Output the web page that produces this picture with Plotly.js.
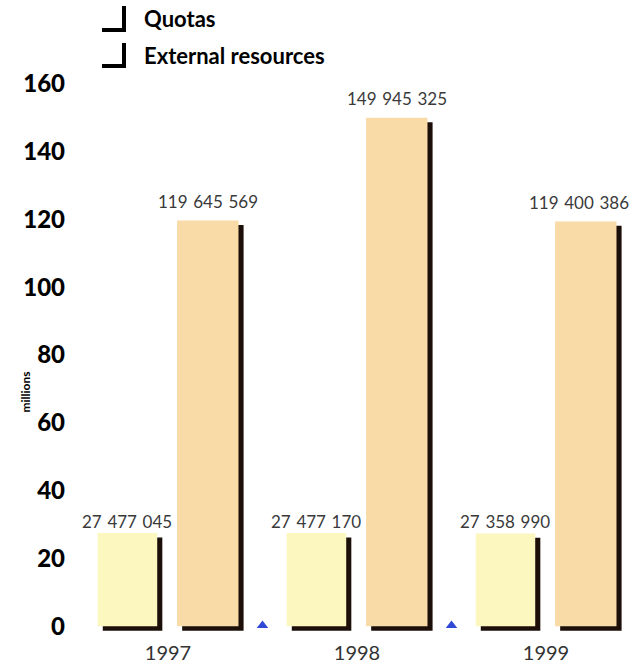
<!DOCTYPE html>
<html>
<head>
<meta charset="utf-8">
<script src="https://cdn.plot.ly/plotly-3.0.1.min.js"></script>
<style>
  html, body { margin: 0; padding: 0; background: #ffffff; }
  #chart { width: 633px; height: 667px; }
</style>
</head>
<body>
<div id="chart"></div>
<script>
// Budget sources per year (in units; plotted in millions)
const years = ['1997', '1998', '1999'];
const quotas = [27477045, 27477170, 27358990];
const externalResources = [119645569, 149945325, 119400386];
const yTickVals = [0, 20, 40, 60, 80, 100, 120, 140, 160];
const seriesNames = ['Quotas', 'External resources'];

// Layout geometry
const W = 633, H = 667;
const M = { l: 75, r: 8, t: 77, b: 34 };
const plotW = W - M.l - M.r, plotH = H - M.t - M.b;
const pxX = px => (px - M.l) / plotW;          // page px -> paper x
const pxY = py => (H - M.b - py) / plotH;      // page px -> paper y

const FONT = 'Lato, "Open Sans", sans-serif';
const SHADOW = '#1c0f0a';
const SHADOW_DX = 0.027;   // drop shadow shift, x units
const SHADOW_DY = 1.3;     // drop shadow shift, millions

const xs = years.map((_, i) => i);
const toM = v => v / 1e6;
const fmt = v => String(v).replace(/\B(?=(\d{3})+(?!\d))/g, '\u2004');

const bars = [
  { name: seriesNames[0], vals: quotas, color: '#fcf7bf', offset: -0.372, width: 0.315, lift: 12 },
  { name: seriesNames[1], vals: externalResources, color: '#f8dba6', offset: 0.048, width: 0.325, lift: 19 }
];

const traces = [];
// shadows first so the coloured bars sit on top
bars.forEach(b => {
  traces.push({
    type: 'bar', x: xs, y: b.vals.map(toM), base: -SHADOW_DY,
    offset: b.offset + SHADOW_DX, width: b.width,
    marker: { color: SHADOW, line: { width: 0 } }, opacity: 1,
    hoverinfo: 'skip', showlegend: false
  });
});
bars.forEach(b => {
  traces.push({
    type: 'bar', name: b.name, x: xs, y: b.vals.map(toM),
    offset: b.offset, width: b.width,
    marker: { color: b.color, line: { width: 0 } }, opacity: 1,
    showlegend: false
  });
});
// small blue separators between the year groups
traces.push({
  type: 'scatter', mode: 'markers',
  x: years.slice(1).map((_, i) => i + 0.5), y: years.slice(1).map(() => 0.2),
  marker: { symbol: 'triangle-up', size: 10, color: '#2f48d6' },
  hoverinfo: 'skip', showlegend: false, cliponaxis: false
});

const annotations = [];
bars.forEach((b, s) => {
  b.vals.forEach((v, i) => {
    // keep the right-most label inside the page
    const edge = (s === bars.length - 1 && i === b.vals.length - 1) ? -7 : 0;
    annotations.push({
      x: i + b.offset + b.width / 2, y: toM(v), xref: 'x', yref: 'y',
      text: fmt(v), showarrow: false, yanchor: 'middle', yshift: b.lift, xshift: edge,
      font: { family: FONT, size: 17, color: '#3a3a3a' }
    });
  });
});
// legend entries
seriesNames.forEach((n, k) => {
  annotations.push({
    x: pxX(142), y: pxY(19 + k * 36), xref: 'paper', yref: 'paper',
    xanchor: 'left', yanchor: 'middle', showarrow: false,
    text: '<b>' + n + '</b>',
    font: { family: FONT, size: 22, color: '#000000' }
  });
});
// vertical unit label
annotations.push({
  x: pxX(15), y: pxY(392), xref: 'paper', yref: 'paper',
  text: '<b>millions</b>', textangle: -90, showarrow: false,
  font: { family: FONT, size: 12, color: '#000000' }
});

// L-shaped legend swatches
const shapes = seriesNames.map((_, k) => {
  const top = 6 + k * 37, bot = 30 + k * 36;
  return {
    type: 'path', xref: 'paper', yref: 'paper',
    path: `M ${pxX(102)} ${pxY(bot)} L ${pxX(124)} ${pxY(bot)} L ${pxX(124)} ${pxY(top)}`,
    line: { color: '#000000', width: 4 }
  };
});

const layout = {
  width: W, height: H,
  margin: M,
  paper_bgcolor: '#ffffff', plot_bgcolor: '#ffffff',
  barmode: 'overlay',
  showlegend: false,
  xaxis: {
    range: [-0.492, 2.418], tickvals: xs, ticktext: years,
    showgrid: false, zeroline: false, showline: false, ticks: '',
    ticklabelstandoff: 6,
    tickfont: { family: FONT, size: 20, color: '#333333' }
  },
  yaxis: {
    range: [-2, 162], tickvals: yTickVals, ticktext: yTickVals.map(String),
    showgrid: false, zeroline: false, showline: false, ticks: '',
    ticklabelstandoff: 9,
    tickfont: { family: FONT, size: 24, color: '#000000', weight: 900 }
  },
  annotations: annotations,
  shapes: shapes
};

Plotly.newPlot('chart', traces, layout, { staticPlot: true, displayModeBar: false });
</script>
</body>
</html>
